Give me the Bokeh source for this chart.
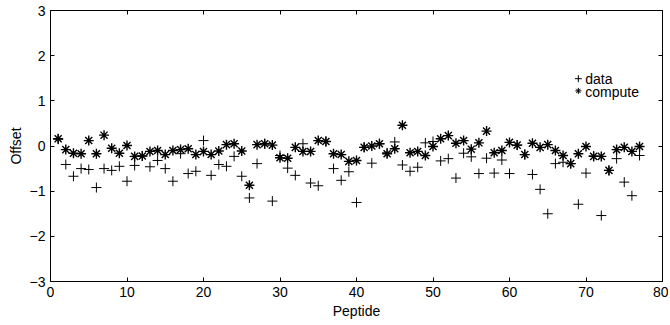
from bokeh.plotting import figure
from bokeh.models import Range1d, LinearAxis, FixedTicker, ColumnDataSource, CustomJSTickFormatter
from bokeh.core.properties import value
from bokeh.embed import file_html
from bokeh.resources import INLINE

peptide = list(range(1, 78))
data = [0.15, -0.41, -0.67, -0.50, -0.52, -0.92, -0.50, -0.54, -0.45, -0.78,
        -0.43, -0.22, -0.46, -0.32, -0.50, -0.78, -0.17, -0.61, -0.56, 0.12,
        -0.65, -0.41, -0.45, -0.23, -0.67, -1.15, -0.39, 0.05, -1.22, -0.21,
        -0.49, -0.65, 0.05, -0.82, -0.88, 0.10, -0.50, -0.76, -0.57, -1.25,
        -0.03, -0.38, 0.05, -0.15, 0.09, -0.42, -0.56, -0.47, 0.07, 0.10,
        -0.33, -0.28, -0.71, -0.16, -0.24, -0.61, -0.27, -0.60, -0.31, -0.61,
        0.02, -0.19, -0.63, -0.96, -1.50, -0.39, -0.36, -0.39, -1.29, -0.60,
        -0.22, -1.54, -0.54, -0.28, -0.80, -1.10, -0.21]
compute = [0.16, -0.08, -0.16, -0.17, 0.12, -0.17, 0.24, -0.05, -0.16, 0.01,
           -0.23, -0.22, -0.12, -0.10, -0.19, -0.10, -0.08, -0.06, -0.19, -0.12,
           -0.19, -0.11, 0.03, 0.05, -0.11, -0.87, 0.03, 0.05, 0.02, -0.26,
           -0.27, -0.03, -0.12, -0.12, 0.12, 0.10, -0.17, -0.19, -0.34, -0.32,
           -0.03, 0.00, 0.05, -0.17, -0.06, 0.46, -0.15, -0.12, -0.21, -0.01,
           0.16, 0.23, 0.06, 0.12, -0.07, 0.07, 0.33, -0.15, -0.10, 0.08,
           0.02, -0.19, 0.06, -0.03, 0.03, -0.10, -0.21, -0.39, -0.17, -0.01,
           -0.23, -0.23, -0.54, -0.08, -0.03, -0.12, -0.01]
x_ticks = [0, 10, 20, 30, 40, 50, 60, 70, 80]
y_ticks = [-3, -2, -1, 0, 1, 2, 3]
legend_labels = ["data", "compute"]

FONT = "Liberation Sans"

p = figure(width=668, height=323, output_backend="svg", toolbar_location=None,
           x_range=Range1d(0, 80), y_range=Range1d(-3, 3),
           frame_width=612, frame_height=271,
           min_border_left=50, min_border_right=6, min_border_top=10, min_border_bottom=42)
p.grid.visible = False
p.outline_line_color = "black"
p.outline_line_width = 1
p.background_fill_color = "white"

for ax in (p.xaxis[0], p.yaxis[0]):
    ax.major_tick_in = 4
    ax.major_tick_out = 0
    ax.minor_tick_in = 0
    ax.minor_tick_out = 0
    ax.axis_line_color = "black"
    ax.major_tick_line_color = "black"
    ax.major_label_text_font = FONT
    ax.major_label_text_font_size = "14px"
    ax.major_label_text_color = "black"
    ax.axis_label_text_font = FONT
    ax.axis_label_text_font_size = "14px"
    ax.axis_label_text_font_style = "normal"
    ax.axis_label_text_color = "black"
    ax.major_label_standoff = 5
    ax.axis_label_standoff = 3

p.xaxis[0].ticker = FixedTicker(ticks=x_ticks)
p.yaxis[0].ticker = FixedTicker(ticks=y_ticks)
p.xaxis[0].axis_label = "Peptide"
p.yaxis[0].axis_label = "Offset"

blank = CustomJSTickFormatter(code="return '';")
top = LinearAxis(ticker=FixedTicker(ticks=x_ticks), formatter=blank,
                 major_tick_in=4, major_tick_out=0, minor_tick_in=0, minor_tick_out=0,
                 major_label_standoff=0, axis_line_color="black")
right = LinearAxis(ticker=FixedTicker(ticks=y_ticks), formatter=blank,
                   major_tick_in=4, major_tick_out=0, minor_tick_in=0, minor_tick_out=0,
                   major_label_standoff=0, axis_line_color="black")
p.add_layout(top, "above")
p.add_layout(right, "right")

src = ColumnDataSource(dict(x=peptide, data=data, compute=compute))
p.scatter("x", "data", source=src, marker="cross", size=10, line_color="black", line_width=1)
p.scatter("x", "compute", source=src, marker="asterisk", size=10, line_color="black", line_width=1.4)

# legend (MATLAB-style, no box)
p.scatter([69.0], [1.49], marker="cross", size=7, line_color="black")
p.scatter([69.0], [1.22], marker="asterisk", size=6, line_color="black")
p.text([69.9, 69.9], [1.49, 1.19], text=legend_labels, text_font=value(FONT),
       text_font_size="14px", text_baseline="middle", text_align="left", text_color="black")

open("out.html", "w").write(file_html(p, INLINE))
